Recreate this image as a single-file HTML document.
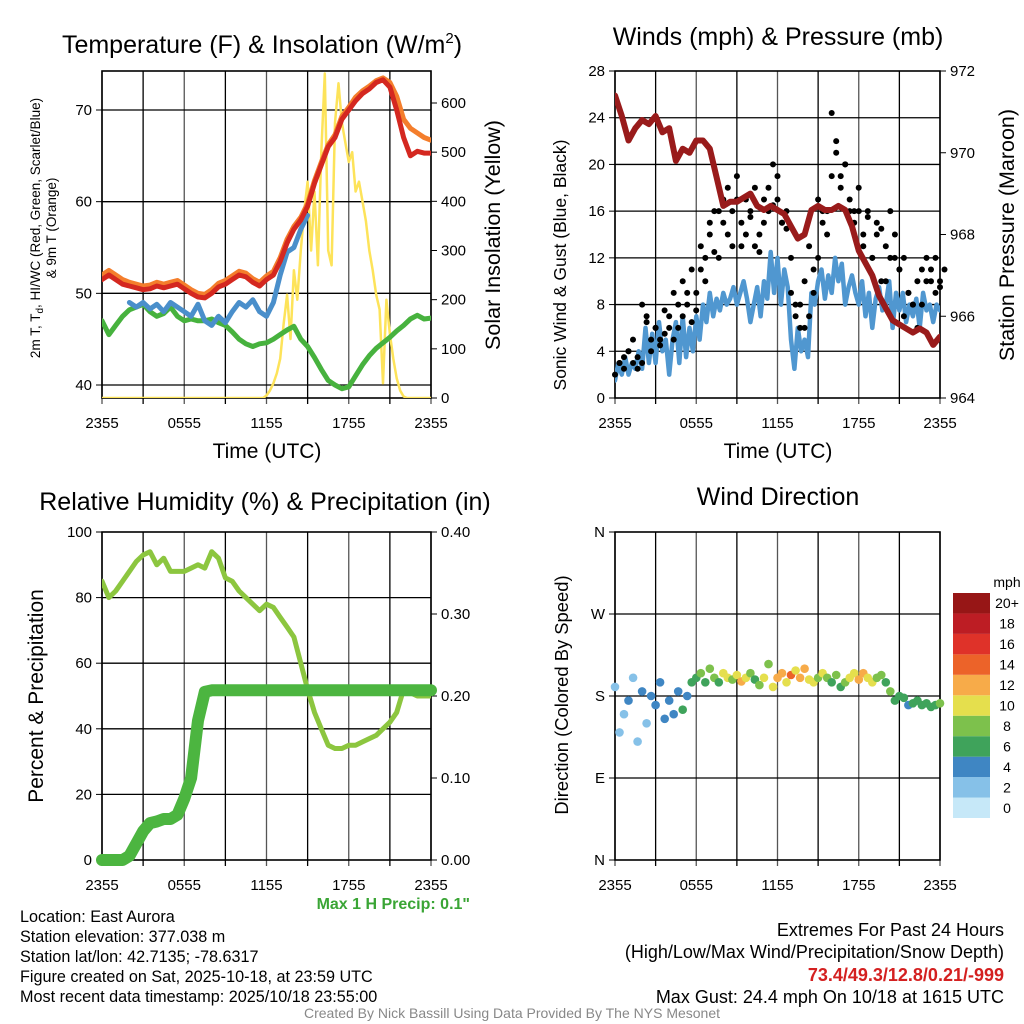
<!DOCTYPE html>
<html><head><meta charset="utf-8"><style>
html,body{margin:0;padding:0;background:#fff}
svg{display:block;font-family:"Liberation Sans",sans-serif}
</style></head><body>
<svg id="c" width="1024" height="1024" xmlns="http://www.w3.org/2000/svg"></svg>
<script>
// ---- data (each series spans 0..24 h, evenly spaced) ----
const xTickLabels = ["2355","0555","1155","1755","2355"];
const tempRed = [51.5,52,51.5,51,50.8,50.6,50.4,50.5,50.8,50.6,50.8,51,50.5,50,49.6,49.5,50,50.7,51,51.5,52,51.8,51.2,50.8,51.5,52,53.5,55.5,57,58,59.5,62,64,66,67,69,70,71,71.8,72.3,73,73.3,72.5,70,67,65,65.5,65.3,65.3];
const tempOrange = [52,52.5,52,51.5,51.2,51,50.8,50.9,51.2,51,51.2,51.4,50.9,50.4,50,49.9,50.4,51.1,51.4,51.9,52.4,52.2,51.6,51.2,51.9,52.4,53.9,55.9,57.3,58.3,59.8,62.3,64.3,66.2,67.3,69.3,70.3,71.4,72.1,72.6,73.2,73.5,73,71.5,69,68,67.5,67,66.7];
const tempBlue = [null,null,null,null,49,48.5,49,48.3,48.8,48,49,48.5,48,47.5,48.8,47,46.5,47.5,46.8,48,49,48.5,49.3,48,47.5,49,52,54.5,55,57,58.5,null,null,null,null,null,null,null,null,null,null,null,null,null,null,null,null,null,null];
const tempGreen = [47,45.5,46.5,47.5,48.2,48.5,48.8,48,47.5,47.8,48.5,47.5,47,47.2,47,47,47.2,46.8,46.5,45.8,45,44.5,44.2,44.5,44.6,45,45.5,46,46.4,45,44.2,43,41.7,40.5,40,39.6,39.8,41,42.2,43.2,44,44.6,45.2,45.9,46.5,47.2,47.6,47.2,47.3];
const solar = [0,0,0,0,0,0,0,0,0,0,0,0,0,0,0,0,0,0,0,0,0,0,0,0,0,0,0,0,0,0,0,0,0,0,0,0,0,0,0,0,0,0,0,0,0,0,0,
0,5,15,30,50,80,150,210,120,260,200,300,380,440,300,420,270,500,660,300,270,560,640,560,520,480,500,420,440,400,360,300,260,210,180,30,200,130,80,40,15,3,
0,0,0,0,0,0,0,0];
const windSonic = [1.5,3,2,3.5,2,3,2.5,4, 2.5,6,3,5.5,3,6.5,4,5, 2,5,6.5,3,7,3.5,6,4, 7,5,8,6.5,9,7,8.5,7.5, 9,8,8.5,9.5,8,9,10,8.5, 6.5,8,9.5,7,10,8.5,12.5,9, 12,8,11,9.5,5,2.5,6,4, 5,3.5,9,8,10,11,8.5,10.5, 9,12,10,11.5,8,9.5,10.5,9, 8,10,7,9,6,8.5,9.5,7.5, 8,10,6,9,7.5,9,6.5,8, 7,8.5,6,9,7.5,8,6.5,8,7.5];
const gustA = [2,3,3.5,4,3,2.5,8,6.5,5,6,4.5,5.5,7,5,8,10,9,6.5,9,11,12,14,12.5,16,15,18,13,17,15,14,16,13,12.5,17,18,16.5,19,15,14.5,9,7,8,6,13,11,17,15,16,24.4,21,19,20,17,16,16,14,15.5,12,15,14.5,10,12,14,11,7,9,8,10,11,12,10,9,9.5];
const gustB = [3,2.5,4,5,3.5,3,7,4,6,5,7.5,6,9,6,7,8,11,7.5,13,10,15,16,12,17,14,16,19,13,17,15.5,18,14,15,16,20,17,15,16,12,8,6,10,7,9,12,16,14,19,22,18,20,16,15,18,13,16,12,14,10,13,16,12,11,12,9,8,6,8,10,11,12,10,11];
const pressure = [971.4,970.9,970.3,970.6,970.8,970.7,970.9,970.5,970.6,969.8,970.1,970.0,970.3,970.3,970.1,969.4,968.7,968.8,968.8,968.9,969.0,968.7,968.6,968.7,968.6,968.5,968.2,967.9,968.0,968.6,968.7,968.6,968.6,968.7,968.6,968.2,967.6,967.3,967.0,966.5,966.2,965.9,965.8,965.7,965.6,965.7,965.6,965.3,965.5];
const rh = [85,80,82,85,88,91,93,94,90,92,88,88,88,89,90,89,94,92,86,85,82,80,78,76,78,77,74,71,68,60,52,45,40,35,34,34,35,35,36,37,38,40,42,45,52,51,50,50,50];
const precip = [0,0,0,0,0.005,0.02,0.035,0.045,0.047,0.05,0.05,0.055,0.075,0.10,0.17,0.205,0.207,0.207,0.207,0.207,0.207,0.207,0.207,0.207,0.207,0.207,0.207,0.207,0.207,0.207,0.207,0.207,0.207,0.207,0.207,0.207,0.207,0.207,0.207,0.207,0.207,0.207,0.207,0.207,0.207,0.207,0.207,0.207,0.207];
const windDir = [190,140,160,175,200,130,185,150,180,170,195,155,175,160,185,165,180,195,200,205,195,210,200,195,205,200,198,203,196,200,205,198,192,200,215,190,200,205,195,203,208,200,210,198,195,200,205,200,195,203,190,195,200,205,198,205,200,195,200,203,195,185,175,180,178,170,172,175,170,172,168,170,172];
const windSpd = [2,1,2,3,1,2,3,2,3,4,3,4,3,4,4,5,4,5,6,7,6,8,7,6,9,10,8,9,11,10,8,6,7,9,8,10,12,11,9,13,10,11,12,9,10,8,9,7,6,7,6,8,9,10,12,11,10,9,8,7,6,7,5,6,5,4,6,5,5,6,5,6,7];
const spdLabels = ["0","2","4","6","8","10","12","14","16","18","20+"];
const spdColors = ["#c6e8f8","#86c1e8","#3f86c3","#3fa35b","#7dc14c","#e5df4d","#f7ab49","#ec6329","#df3229","#bd1d24","#971616"];

// ---- helpers ----
const NS="http://www.w3.org/2000/svg", svg=document.getElementById('c');
function mk(tag,attrs,parent){const e=document.createElementNS(NS,tag);for(const k in attrs)e.setAttribute(k,attrs[k]);(parent||svg).appendChild(e);return e;}
function txt(s,x,y,size,anchor,extra,parent){const e=mk('text',Object.assign({x:x,y:y,'font-size':size,'text-anchor':anchor||'middle',fill:'#000'},extra||{}),parent);e.textContent=s;return e;}
function scale(d0,d1,r0,r1){return v=>r0+(v-d0)/(d1-d0)*(r1-r0);}
function hx(P,i,n){return P.x0+(i/(n-1))*(P.x1-P.x0);}
function line(P,arr,ys,color,w,name,op){
  let d='',pen=false;const n=arr.length;
  arr.forEach((v,i)=>{if(v==null){pen=false;return;}d+=(pen?'L':'M')+hx(P,i,n).toFixed(1)+' '+ys(v).toFixed(1);pen=true;});
  const p=mk('path',{d:d,fill:'none',stroke:color,'stroke-width':w,'stroke-linejoin':'round','stroke-linecap':'round',opacity:op||1,'clip-path':'url(#'+P.clip+')'});
  
  
  return p;
}
function frame(P,nameBase){
  const g=mk('g',{});
  
  
  const cp=mk('clipPath',{id:P.clip});mk('rect',{x:P.x0,y:P.y0,width:P.x1-P.x0,height:P.y1-P.y0},cp);
  for(let k=0;k<=8;k++){const x=P.x0+k*(P.x1-P.x0)/8;mk('line',{x1:x,x2:x,y1:P.y0,y2:P.y1+6,stroke:k%2?'#000':'#555','stroke-width':1.3},g);}
  P.hgrid.forEach(v=>{const y=P.yl(v);mk('line',{x1:P.x0,x2:P.x1,y1:y,y2:y,stroke:'#000','stroke-width':1.3},g);});
  mk('rect',{x:P.x0,y:P.y0,width:P.x1-P.x0,height:P.y1-P.y0,fill:'none',stroke:'#000','stroke-width':1.6},g);
  xTickLabels.forEach((s,i)=>{const x=P.x0+i*(P.x1-P.x0)/4;const t=txt(s,x,P.y1+30,15);});
}
function ticksL(P,vals,labels,name){vals.forEach((v,i)=>{const y=P.yl(v);mk('line',{x1:P.x0-6,x2:P.x0,y1:y,y2:y,stroke:'#000'});const t=txt(labels[i],P.x0-10,y+5,15,'end');});}
function ticksR(P,ys,vals,labels,name){vals.forEach((v,i)=>{const y=ys(v);mk('line',{x1:P.x1,x2:P.x1+6,y1:y,y2:y,stroke:'#000'});const t=txt(labels[i],P.x1+10,y+5,15,'start');});}
function vtext(s,x,y,size,name,extra){const t=txt(s,x,y,size,'middle',Object.assign({transform:'rotate(-90 '+x+' '+y+')'},extra||{}));return t;}
function title(s,x,y,name,size){const t=txt(s,x,y,size||25);return t;}

// ---- Panel 1: temperature ----
const P1={x0:102,x1:431,y0:71,y1:398,clip:'cp1'};
P1.yl=scale(40,70,385,110);P1.hgrid=[40,50,60,70];
const yS=scale(0,600,398,103);
frame(P1,'temperature-panel');
ticksL(P1,[40,50,60,70],["40","50","60","70"],'temp-y-tick-label');
ticksR(P1,yS,[0,100,200,300,400,500,600],["0","100","200","300","400","500","600"],'solar-y-tick-label');
line(P1,solar,yS,'#fde35a',2.5,'solar-line');
line(P1,tempGreen,P1.yl,'#47b23e',5,'dewpoint-line');
line(P1,tempBlue,P1.yl,'#4a8fcb',5,'windchill-line');
line(P1,tempOrange,P1.yl,'#f47e2c',5,'temp-9m-line');
line(P1,tempRed,P1.yl,'#d42820',5,'temp-2m-line');
const t1=title('Temperature (F) & Insolation (W/m',262,53,'temperature-title');
const sup=mk('tspan',{'font-size':15,dy:-10});sup.textContent='2';t1.appendChild(sup);
const t1b=mk('tspan',{dy:10});t1b.textContent=')';t1.appendChild(t1b);
vtext('',40,228,13.5,'temp-y-title-1').innerHTML='2m T, T<tspan font-size="10" dy="3">d</tspan><tspan dy="-3">, HI/WC (Red, Green, Scarlet/Blue)</tspan>';
vtext('& 9m T (Orange)',56,228,13.5,'temp-y-title-2');
vtext('Solar Insolation (Yellow)',500,235,21.5,'solar-y-title');
title('Time (UTC)',267,458,'temp-x-title',21);

// ---- Panel 2: winds ----
const P2={x0:615,x1:940,y0:71,y1:398,clip:'cp2'};
P2.yl=scale(0,28,398,71);P2.hgrid=[4,8,12,16,20,24];
const yP=scale(964,972,398,71);
frame(P2,'winds-panel');
ticksL(P2,[0,4,8,12,16,20,24,28],["0","4","8","12","16","20","24","28"],'wind-y-tick-label');
ticksR(P2,yP,[964,966,968,970,972],["964","966","968","970","972"],'pressure-y-tick-label');
line(P2,windSonic,P2.yl,'#5097d0',4.5,'sonic-wind-line');
[gustA,gustB].forEach((arr,k)=>{arr.forEach((v,i)=>{
  const c=mk('circle',{cx:(hx(P2,i,arr.length)+(k?4.5:0)).toFixed(1),cy:P2.yl(v).toFixed(1),r:3,fill:'#000'});
  
  
});});
line(P2,pressure,yP,'#991b1b',6,'pressure-line');
title('Winds (mph) & Pressure (mb)',778,45,'winds-title');
vtext('Sonic Wind & Gust (Blue, Black)',566,265,17.5,'wind-y-title');
vtext('Station Pressure (Maroon)',1014,235,21.5,'pressure-y-title');
title('Time (UTC)',778,458,'winds-x-title',21);

// ---- Panel 3: humidity ----
const P3={x0:102,x1:431,y0:532,y1:860,clip:'cp3'};
P3.yl=scale(0,100,860,532);P3.hgrid=[20,40,60,80];
const yPr=scale(0,0.4,860,532);
frame(P3,'humidity-panel');
ticksL(P3,[0,20,40,60,80,100],["0","20","40","60","80","100"],'rh-y-tick-label');
ticksR(P3,yPr,[0,0.1,0.2,0.3,0.4],["0.00","0.10","0.20","0.30","0.40"],'precip-y-tick-label');
line(P3,rh,P3.yl,'#8cc63f',5,'humidity-line');
const pl=line(P3,precip,yPr,'#4cb540',12,'precip-line');pl.removeAttribute('clip-path');
title('Relative Humidity (%) & Precipitation (in)',265,510,'humidity-title');
vtext('Percent & Precipitation',43,696,21,'humidity-y-title');
const mp=txt('Max 1 H Precip: 0.1"',470,909,16,'end',{fill:'#3aa535','font-weight':'bold'});


// ---- Panel 4: wind direction ----
const P4={x0:615,x1:940,y0:532,y1:860,clip:'cp4'};
P4.yl=scale(0,360,860,532);P4.hgrid=[90,180,270];
frame(P4,'direction-panel');
ticksL(P4,[0,90,180,270,360],["N","E","S","W","N"],'direction-y-tick-label');
windDir.forEach((v,i)=>{
  const ci=Math.min(10,Math.round(windSpd[i]/2));
  const c=mk('circle',{cx:hx(P4,i,windDir.length).toFixed(1),cy:P4.yl(v).toFixed(1),r:4.3,fill:spdColors[ci]});
  
  
});
title('Wind Direction',778,505,'direction-title');
vtext('Direction (Colored By Speed)',568,695,18.4,'direction-y-title');
// colorbar
const cb=mk('g',{});
const segH=225/spdColors.length;
spdColors.forEach((c,i)=>{const y=818-(i+1)*segH;mk('rect',{x:953,y:y,width:37,height:segH,fill:c},cb);const t=txt(spdLabels[i],1007,y+segH/2+5,14,'middle',{},cb);});
txt('mph',1007,587,14,'middle',{},cb);

// ---- footer text ----
const left=["Location: East Aurora","Station elevation: 377.038 m","Station lat/lon: 42.7135; -78.6317","Figure created on Sat, 2025-10-18, at 23:59 UTC","Most recent data timestamp: 2025/10/18 23:55:00"];
left.forEach((s,i)=>{const t=txt(s,20,922+i*20,16.2,'start');});
const rt=[["Extremes For Past 24 Hours",936,{}],["(High/Low/Max Wind/Precipitation/Snow Depth)",958,{}],["73.4/49.3/12.8/0.21/-999",981,{fill:'#d42020','font-weight':'bold'}],["Max Gust: 24.4 mph On 10/18 at 1615 UTC",1003,{}]];
rt.forEach(r=>{const t=txt(r[0],1004,r[1],18,'end',r[2]);});
const cr=txt('Created By Nick Bassill Using Data Provided By The NYS Mesonet',512,1018,14,'middle',{fill:'#888'});

</script>
</body></html>
